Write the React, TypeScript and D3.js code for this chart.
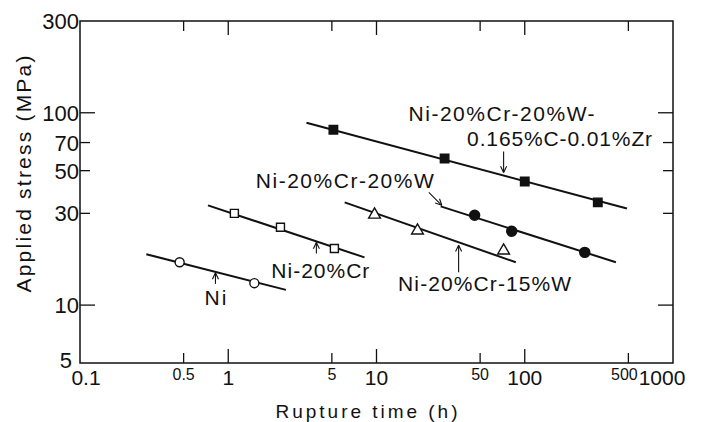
import React, { useEffect, useRef } from 'react';
import * as d3 from 'd3';

// ── Axis ticks ─────────────────────────────────────────────────────────
const xTicks = [0.1, 0.5, 1, 5, 10, 50, 100, 500, 1000];
const xTickLabels = ['0.1', '0.5', '1', '5', '10', '50', '100', '500', '1000'];
const xMajorTicks = [0.1, 1, 10, 100, 1000];
const yTicks = [5, 10, 30, 50, 70, 100, 300];
const yTickLabels = ['5', '10', '30', '50', '70', '100', '300'];
const yMajorTicks = [10, 100];

// ── Creep rupture data (time in h, stress in MPa) ─────────────────────
const niTime = [0.47, 1.5];
const niStress = [16.7, 13.0];
const niFitTime = [0.28, 2.45];
const niFitStress = [18.4, 12.0];

const niCrTime = [1.1, 2.25, 5.2];
const niCrStress = [30.0, 25.4, 19.7];
const niCrFitTime = [0.73, 8.3];
const niCrFitStress = [33.0, 17.7];

const niCr15WTime = [9.7, 18.9, 72];
const niCr15WStress = [29.5, 24.4, 19.2];
const niCr15WFitTime = [6.1, 87];
const niCr15WFitStress = [34.2, 16.7];

const niCr20WTime = [45.9, 81.7, 254];
const niCr20WStress = [29.3, 24.2, 18.8];
const niCr20WFitTime = [27.1, 412];
const niCr20WFitStress = [32.6, 16.7];

const niCrWZrTime = [5.12, 28.8, 100, 311];
const niCrWZrStress = [81.6, 57.8, 43.9, 34.2];
const niCrWZrFitTime = [3.37, 489];
const niCrWZrFitStress = [88.7, 31.8];

const seriesNames = ['Ni', 'Ni-20%Cr', 'Ni-20%Cr-15%W', 'Ni-20%Cr-20%W', 'Ni-20%Cr-20%W-0.165%C-0.01%Zr'];

const WIDTH = 703;
const HEIGHT = 422;
const FONT = '"Liberation Sans", Arial, Helvetica, sans-serif';

export default function App() {
  const svgRef = useRef<SVGSVGElement | null>(null);

  useEffect(() => {
    const svg = d3.select(svgRef.current);
    svg.selectAll('*').remove();

    const margin = { top: 21, right: 30, bottom: 59, left: 80 };
    const x0 = margin.left;
    const x1 = WIDTH - margin.right;
    const y0 = HEIGHT - margin.bottom;
    const y1 = margin.top;

    const x = d3.scaleLog().domain([0.1, 1000]).range([x0, x1]);
    const y = d3.scaleLog().domain([5, 300]).range([y0, y1]);

    const series = [
      { name: seriesNames[0], time: niTime, stress: niStress, fitTime: niFitTime, fitStress: niFitStress, shape: 'circle', filled: false },
      { name: seriesNames[1], time: niCrTime, stress: niCrStress, fitTime: niCrFitTime, fitStress: niCrFitStress, shape: 'square', filled: false },
      { name: seriesNames[2], time: niCr15WTime, stress: niCr15WStress, fitTime: niCr15WFitTime, fitStress: niCr15WFitStress, shape: 'triangle', filled: false },
      { name: seriesNames[3], time: niCr20WTime, stress: niCr20WStress, fitTime: niCr20WFitTime, fitStress: niCr20WFitStress, shape: 'circle', filled: true },
      { name: seriesNames[4], time: niCrWZrTime, stress: niCrWZrStress, fitTime: niCrWZrFitTime, fitStress: niCrWZrFitStress, shape: 'square', filled: true },
    ];

    // stress on the fitted line at a given time (straight in log–log)
    const fitAt = (s: any, t: number) => {
      const lx = d3.scaleLinear()
        .domain(s.fitTime.map(Math.log10))
        .range(s.fitStress.map(Math.log10));
      return Math.pow(10, lx(Math.log10(t)));
    };

    svg.append('rect').attr('width', WIDTH).attr('height', HEIGHT).attr('fill', '#fff');

    // ── Frame ──────────────────────────────────────────────────────────
    svg.append('rect')
      .attr('x', x0).attr('y', y1)
      .attr('width', x1 - x0).attr('height', y0 - y1)
      .attr('fill', 'none').attr('stroke', '#111').attr('stroke-width', 1.5);

    const ticks = svg.append('g').attr('stroke', '#111').attr('stroke-width', 1.3);
    xTicks.slice(1, -1).forEach((t) => {
      const len = xMajorTicks.includes(t) ? 14 : 10;
      ticks.append('line').attr('x1', x(t)).attr('x2', x(t)).attr('y1', y0).attr('y2', y0 - len);
      ticks.append('line').attr('x1', x(t)).attr('x2', x(t)).attr('y1', y1).attr('y2', y1 + len);
    });
    yTicks.slice(1, -1).forEach((t) => {
      const len = yMajorTicks.includes(t) ? 15 : 10;
      ticks.append('line').attr('x1', x0).attr('x2', x0 + len).attr('y1', y(t)).attr('y2', y(t));
      ticks.append('line').attr('x1', x1).attr('x2', x1 - len).attr('y1', y(t)).attr('y2', y(t));
    });

    // ── Tick labels ────────────────────────────────────────────────────
    const xl = svg.append('g').style('font-family', FONT).attr('fill', '#111').attr('text-anchor', 'middle');
    xTicks.forEach((t, i) => {
      const major = xMajorTicks.includes(t);
      const dx = t === 0.1 ? 6 : t === 1000 ? -11 : t === 500 ? -4 : 0;
      xl.append('text')
        .attr('x', x(t) + dx)
        .attr('y', y0 + (major ? 22 : 17))
        .style('font-size', major ? '21px' : '16px')
        .text(xTickLabels[i]);
    });

    const yl = svg.append('g').style('font-family', FONT).attr('fill', '#111').attr('text-anchor', 'end');
    yTicks.forEach((t, i) => {
      yl.append('text')
        .attr('x', x0 - 1 + (t === 5 ? -7 : 0))
        .attr('y', y(t) + (t === 5 ? 5 : 8))
        .style('font-size', '22px')
        .text(yTickLabels[i]);
    });

    // ── Axis titles ────────────────────────────────────────────────────
    svg.append('text')
      .attr('x', (x0 + x1) / 2 - 10)
      .attr('y', 418)
      .attr('text-anchor', 'middle')
      .attr('textLength', 182)
      .attr('lengthAdjust', 'spacing')
      .style('font-family', FONT)
      .style('font-size', '19px')
      .attr('fill', '#111')
      .text('Rupture time (h)');

    svg.append('text')
      .attr('transform', `translate(31,${174}) rotate(-90)`)
      .attr('text-anchor', 'middle')
      .attr('textLength', 237)
      .attr('lengthAdjust', 'spacing')
      .style('font-family', FONT)
      .style('font-size', '21px')
      .attr('fill', '#111')
      .text('Applied stress (MPa)');

    // ── Fitted lines ───────────────────────────────────────────────────
    series.forEach((s) => {
      const pts = s.fitTime.map((t, i) => [x(t), y(s.fitStress[i])] as [number, number]);
      svg.append('path')
        .attr('d', d3.line()(pts))
        .attr('fill', 'none')
        .attr('stroke', '#111')
        .attr('stroke-width', 2);
    });

    // ── Markers ────────────────────────────────────────────────────────
    const symbolFor = (shape: string) =>
      shape === 'circle' ? d3.symbolCircle : shape === 'square' ? d3.symbolSquare : d3.symbolTriangle;
    const sizeFor = (shape: string, filled: boolean) =>
      shape === 'circle' ? (filled ? 80 : 64) : shape === 'square' ? (filled ? 72 : 64) : 60;

    series.forEach((s) => {
      svg.append('g')
        .selectAll('path')
        .data(s.time.map((t, i) => ({ t, v: s.stress[i] })))
        .join('path')
        .attr('transform', (d) => `translate(${x(d.t)},${y(d.v)})`)
        .attr('d', d3.symbol().type(symbolFor(s.shape)).size(sizeFor(s.shape, s.filled))())
        .attr('fill', s.filled ? '#111' : '#fff')
        .attr('stroke', '#111')
        .attr('stroke-width', 1.4);
    });

    // ── Annotations ────────────────────────────────────────────────────
    const annotations = [
      { idx: 0, at: 0.82, tailDx: 0, tailDy: 11, gap: 1, lines: [{ text: 'Ni', dx: 0, dy: 32, len: 22 }] },
      { idx: 1, at: 3.93, tailDx: 0, tailDy: 11, gap: 1, lines: [{ text: 'Ni-20%Cr', dx: 4, dy: 36, len: 98 }] },
      { idx: 2, at: 35.8, tailDx: 0, tailDy: 27, gap: 3, lines: [{ text: 'Ni-20%Cr-15%W', dx: 26, dy: 46, len: 173 }] },
      { idx: 3, at: 28.5, tailDx: -13, tailDy: -13, gap: 3, lines: [{ text: 'Ni-20%Cr-20%W', dx: -97, dy: -17, len: 178 }] },
      {
        idx: 4, at: 72, tailDx: 0, tailDy: -21, gap: 3,
        lines: [
          { text: 'Ni-20%Cr-20%W-', dx: -2, dy: -51, len: 186 },
          { text: '0.165%C-0.01%Zr', dx: 56, dy: -26, len: 185 },
        ],
      },
    ];

    const ann = svg.append('g');
    annotations.forEach((a) => {
      const s = series[a.idx];
      const lx = x(a.at);
      const ly = y(fitAt(s, a.at));
      const dist = Math.hypot(a.tailDx, a.tailDy);
      const ux = -a.tailDx / dist;
      const uy = -a.tailDy / dist;
      const tipX = lx - ux * a.gap;
      const tipY = ly - uy * a.gap;
      const tailX = tipX + a.tailDx;
      const tailY = tipY + a.tailDy;
      ann.append('line')
        .attr('x1', tailX).attr('y1', tailY).attr('x2', tipX).attr('y2', tipY)
        .attr('stroke', '#111').attr('stroke-width', 1.1);
      const ang = Math.atan2(uy, ux);
      [-0.45, 0.45].forEach((off) => {
        ann.append('line')
          .attr('x1', tipX).attr('y1', tipY)
          .attr('x2', tipX - 7 * Math.cos(ang + off))
          .attr('y2', tipY - 7 * Math.sin(ang + off))
          .attr('stroke', '#111').attr('stroke-width', 1.1);
      });
      a.lines.forEach((l) => {
        ann.append('text')
          .attr('x', tipX + l.dx)
          .attr('y', tipY + l.dy)
          .attr('text-anchor', 'middle')
          .attr('textLength', l.len)
          .attr('lengthAdjust', 'spacing')
          .style('font-family', FONT)
          .style('font-size', '21px')
          .attr('fill', '#111')
          .text(l.text);
      });
    });
  }, []);

  return (
    <svg
      ref={svgRef}
      width={WIDTH}
      height={HEIGHT}
      style={{ position: 'absolute', left: 0, top: 0, background: '#fff' }}
    />
  );
}
